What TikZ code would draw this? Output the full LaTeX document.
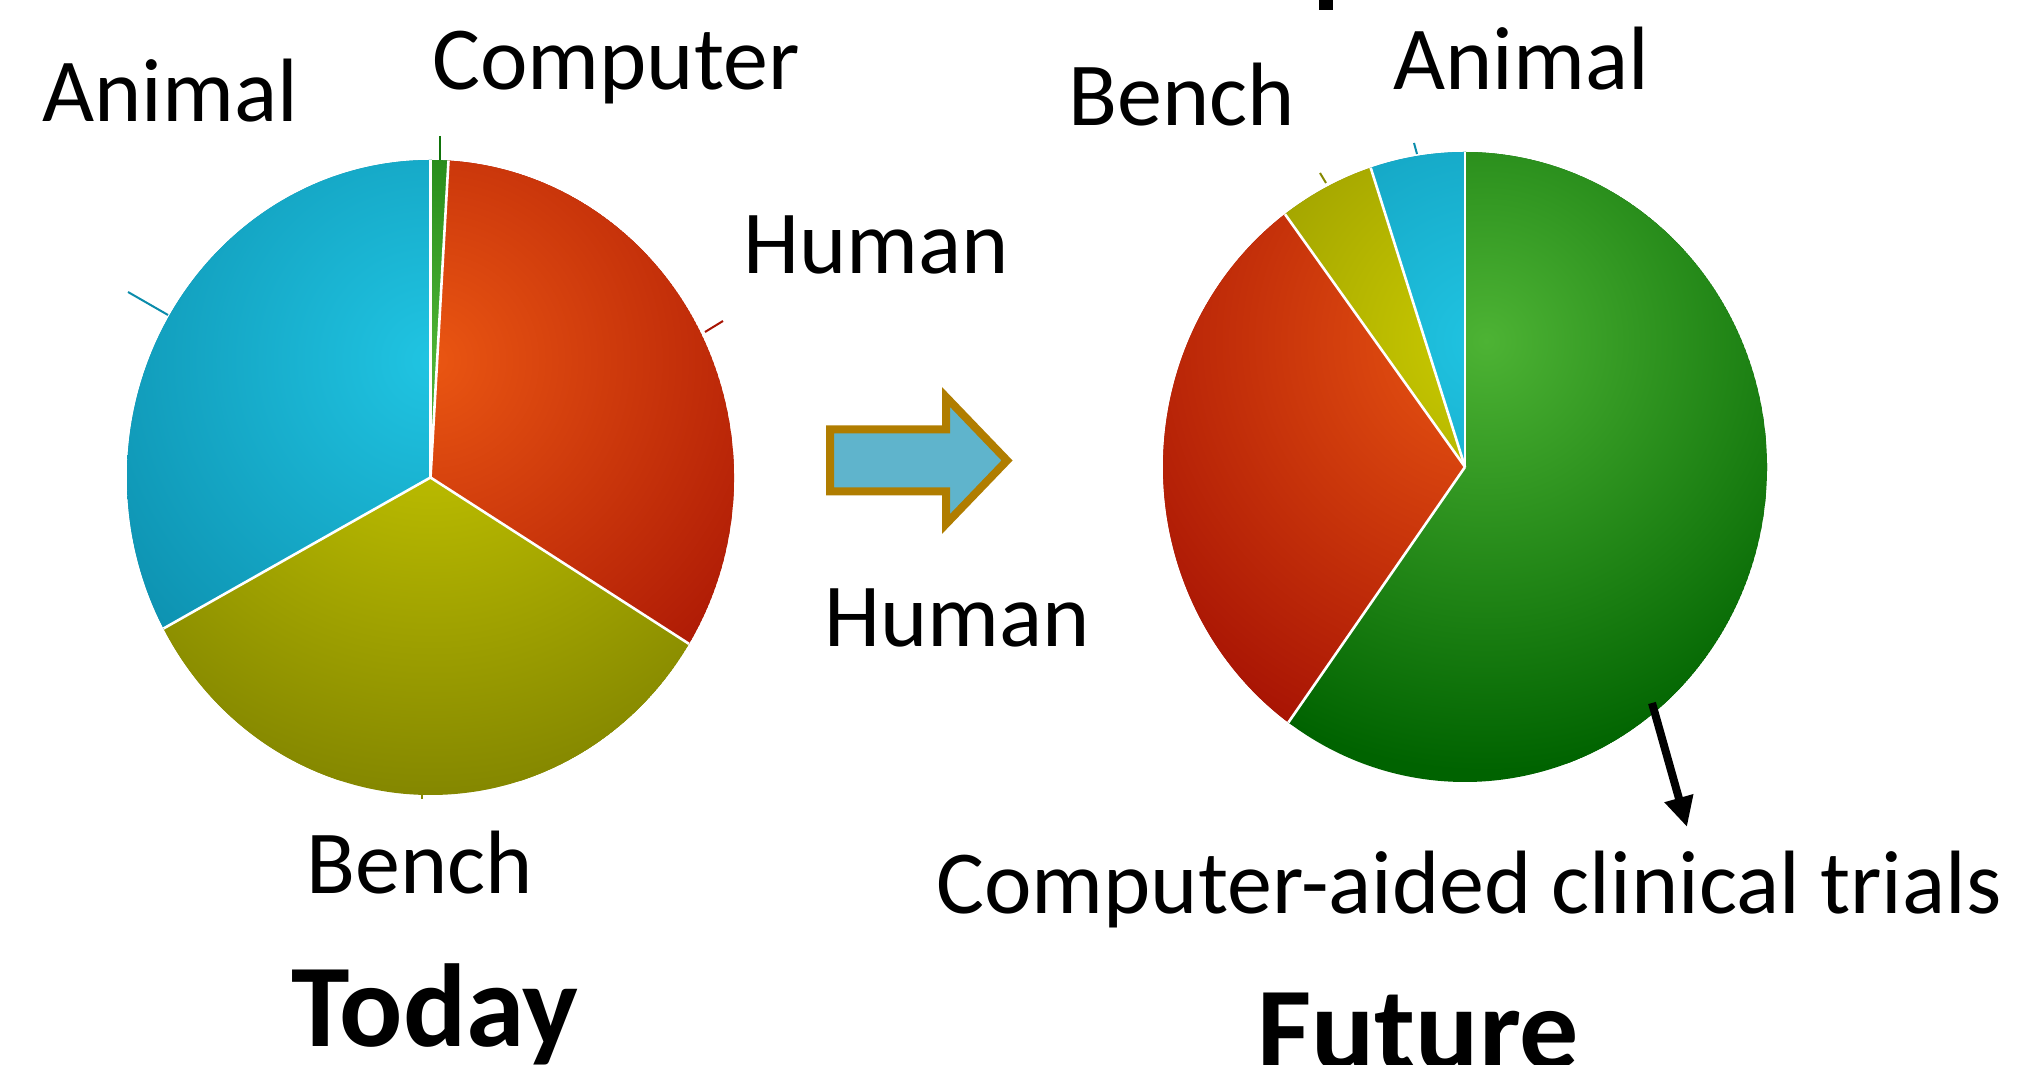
\documentclass[tikz,border=0pt]{standalone}
\usepackage{fontspec}
\setmainfont{Carlito}
\usetikzlibrary{arrows.meta}

\definecolor{pieblue}{HTML}{20C4E2}
\definecolor{pieblueD}{HTML}{0B8CAB}
\definecolor{piered}{HTML}{EA5612}
\definecolor{pieredD}{HTML}{A81404}
\definecolor{pieyel}{HTML}{CCCC00}
\definecolor{pieyelD}{HTML}{858800}
\definecolor{piegreen}{HTML}{4DB334}
\definecolor{piegreenD}{HTML}{006300}
\definecolor{arrfill}{HTML}{5FB4CC}
\definecolor{arrline}{HTML}{B07D00}

% one shaded slice: center, start angle, end angle, inner colour, outer colour, highlight
\newcommand{\shadeslice}[6]{%
  \begin{scope}
    \clip (#1) -- ++(xyz polar cs:angle=#2, x radius=\pierx, y radius=\piery)
      arc[start angle=#2, end angle=#3, x radius=\pierx, y radius=\piery] -- cycle;
    \fill[#5] (#1) ellipse[x radius=\pierx, y radius=\piery];
    \shade[inner color=#4, outer color=#5] (#6) circle (430);
  \end{scope}}
% white line between two slices
\newcommand{\sepline}[2]{%
  \draw[sep] (#1) -- ++(xyz polar cs:angle=#2, x radius=\pierx, y radius=\piery);}

\begin{document}
\begin{tikzpicture}[x=0.5pt, y=0.5pt,
  lbl/.style={font=\fontsize{45}{50}\selectfont, inner sep=0, anchor=base west},
  ttl/.style={font=\fontsize{59}{64}\selectfont\bfseries, inner sep=0, anchor=base west},
  sep/.style={white, line width=1.3pt},
  tick/.style={line width=1pt},
  arrow/.style={-{Triangle[length=15pt, width=14pt]}, line width=4pt}
]
\useasboundingbox (0,0) rectangle (2018,1065);
\fill[white] (0,0) rectangle (2018,1065);

% today
\coordinate (today) at (430.5,587.5);
\coordinate (todayhl) at (431,705);
\def\pierx{303.5}\def\piery{317.5}
\shadeslice{today}{86.6}{90}{piegreen}{piegreenD}{todayhl}
\shadeslice{today}{-31.6}{86.6}{piered}{pieredD}{todayhl}
\shadeslice{today}{-151.6}{-31.6}{pieyel}{pieyelD}{todayhl}
\shadeslice{today}{90}{208.4}{pieblue}{pieblueD}{todayhl}
\sepline{today}{90}
\sepline{today}{86.6}
\sepline{today}{-31.6}
\sepline{today}{208.4}
\draw[tick, piegreenD!80!piegreen] (440,929) -- (440,905);
\draw[tick, pieblueD] (128,773) -- (168,750);
\draw[tick, pieredD] (705,733) -- (723,744);
\draw[tick, pieyelD] (422,271) -- (422,266);

% future
\coordinate (future) at (1465,598);
\coordinate (futurehl) at (1486,724);
\def\pierx{302}\def\piery{315}
\shadeslice{future}{-125.8}{90}{piegreen}{piegreenD}{futurehl}
\shadeslice{future}{126.6}{234.2}{piered}{pieredD}{futurehl}
\shadeslice{future}{108.2}{126.6}{pieyel}{pieyelD}{futurehl}
\shadeslice{future}{90}{108.2}{pieblue}{pieblueD}{futurehl}
\sepline{future}{90}
\sepline{future}{108.2}
\sepline{future}{126.6}
\sepline{future}{234.2}
\draw[tick, pieyelD] (1320,892) -- (1326,882);
\draw[tick, pieblueD] (1414,922) -- (1417,911);

% block arrow
\draw[fill=arrfill, draw=arrline, line width=4pt, miter limit=10]
  (830,635.5) -- (946,635.5) -- (946,668) -- (1007,604.5) -- (946,541)
  -- (946,573.5) -- (830,573.5) -- cycle;

% labels
\node[lbl] (animalL) at (42,943) {Animal};
\node[lbl] (computerL) at (432,975) {Computer};
\node[lbl] (humanL) at (743,791) {Human};
\node[lbl] (benchL) at (306,171) {Bench};
\node[lbl] (humanM) at (824,418) {Human};
\node[lbl] (benchR) at (1068,939) {Bench};
\node[lbl] (animalR) at (1393,975) {Animal};
\node[lbl] (trials) at (936,151) {Computer-aided clinical trials};
\node[ttl] (todayT) at (291,18) {Today};
\node[ttl] (futureT) at (1257,-4) {Future};
\fill (1319,1055) rectangle (1333,1065);

\coordinate (trialsfrom) at (1652,362);
\coordinate (trialsto) at (1687,238);
\draw[arrow] (trialsfrom) -- (trialsto);
\end{tikzpicture}
\end{document}
